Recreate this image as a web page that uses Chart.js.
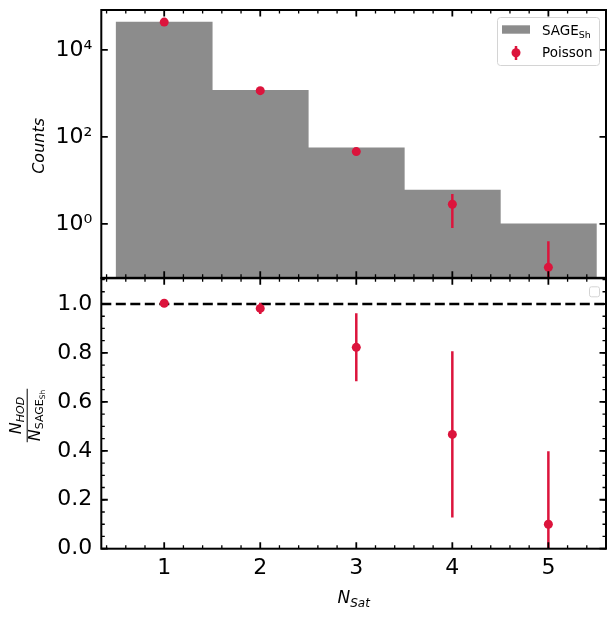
<!DOCTYPE html>
<html>
<head>
<meta charset="utf-8">
<script src="https://cdn.jsdelivr.net/npm/chart.js@4.4.0/dist/chart.umd.min.js"></script>
<style>
  html, body { margin: 0; padding: 0; background: #fff; }
  #wrap { position: relative; width: 615px; height: 617px; overflow: hidden; }
  canvas { position: absolute; left: 0; }
  #countsChart { top: -20px; }
  #ratioChart { top: 250px; }
</style>
</head>
<body>
<div id="wrap">
  <canvas id="countsChart" width="615" height="320"></canvas>
  <canvas id="ratioChart" width="615" height="367"></canvas>
</div>
<script>
// values
const nSat = [1, 2, 3, 4, 5];
const sageCounts = [44000, 1186, 56, 6.0, 1.0];
const poissonCounts = [43800, 1160, 46, 2.83, 0.1];
const poissonErr = [209, 34, 7.8, 2.03, 0.3];
const ratio = [1.003, 0.982, 0.823, 0.467, 0.1];
const ratioErr = [0.006, 0.023, 0.139, 0.34, 0.298];
const countTicks = [1, 100, 10000];
const countTickLabels = ["10\u2070", "10\u00b2", "10\u2074"];
const ratioTicks = [0, 0.2, 0.4, 0.6, 0.8, 1.0];

const RED = "#dc143c";
const GREY = "#8c8c8c";
const FONT = "DejaVu Sans";
const tickFont = { family: FONT, size: 22 };

// inward ticks on all four sides plus the frame
function drawFrame(chart, xMinor, yMinor) {
  const ctx = chart.ctx, a = chart.chartArea;
  const xs = chart.scales.x, ys = chart.scales.y;
  ctx.save();
  ctx.strokeStyle = "#000";
  function xTick(v, len, w) {
    const px = xs.getPixelForValue(v);
    ctx.lineWidth = w;
    ctx.beginPath();
    ctx.moveTo(px, a.bottom); ctx.lineTo(px, a.bottom - len);
    ctx.moveTo(px, a.top); ctx.lineTo(px, a.top + len);
    ctx.stroke();
  }
  function yTick(v, len, w) {
    const py = ys.getPixelForValue(v);
    ctx.lineWidth = w;
    ctx.beginPath();
    ctx.moveTo(a.left, py); ctx.lineTo(a.left + len, py);
    ctx.moveTo(a.right, py); ctx.lineTo(a.right - len, py);
    ctx.stroke();
  }
  for (let k = Math.ceil(xs.min / xMinor); k * xMinor <= xs.max + 1e-9; k++) {
    const v = k * xMinor;
    if (Math.abs(v - Math.round(v)) > 1e-6) xTick(v, 3.5, 1.3);
  }
  xs.ticks.forEach(t => xTick(t.value, 6.5, 1.8));
  if (yMinor) {
    for (let k = Math.ceil(ys.min / yMinor); k * yMinor <= ys.max + 1e-9; k++) {
      yTick(k * yMinor, 3.5, 1.3);
    }
  }
  ys.ticks.forEach(t => yTick(t.value, 6.5, 1.8));
  ctx.lineWidth = 2;
  ctx.strokeRect(a.left, a.top, a.right - a.left, a.bottom - a.top);
  ctx.restore();
}

// vertical error bars under the points
const errorBars = {
  id: "errorBars",
  beforeDatasetDraw(chart, args) {
    const ds = chart.data.datasets[args.index];
    if (!ds.errors) return;
    const ctx = chart.ctx, a = chart.chartArea;
    const xs = chart.scales.x, ys = chart.scales.y;
    ctx.save();
    ctx.beginPath();
    ctx.rect(a.left, a.top, a.right - a.left, a.bottom - a.top);
    ctx.clip();
    ctx.strokeStyle = RED;
    ctx.lineWidth = 2.5;
    ds.data.forEach((p, i) => {
      const px = xs.getPixelForValue(p.x);
      const hi = p.y + ds.errors[i];
      const lo = p.y - ds.errors[i];
      const yHi = ys.getPixelForValue(hi);
      const yLo = lo > 0 || ys.type !== "logarithmic" ? ys.getPixelForValue(lo) : a.bottom + 5;
      ctx.beginPath();
      ctx.moveTo(px, yLo);
      ctx.lineTo(px, yHi);
      ctx.stroke();
    });
    ctx.restore();
  }
};

function drawRich(ctx, parts, x, y) {
  let w = 0;
  parts.forEach(p => { ctx.font = p.font; w += ctx.measureText(p.t).width; });
  let cx = x - w / 2;
  parts.forEach(p => {
    ctx.font = p.font;
    ctx.fillText(p.t, cx, y + (p.dy || 0));
    cx += ctx.measureText(p.t).width;
  });
  return w;
}

const countsDecor = {
  id: "countsDecor",
  afterDraw(chart) {
    const ctx = chart.ctx, a = chart.chartArea;
    drawFrame(chart, 0.2, 0);
    ctx.save();
    // y title
    ctx.fillStyle = "#000";
    ctx.textBaseline = "middle";
    ctx.textAlign = "center";
    ctx.translate(40, (a.top + a.bottom) / 2 + 2);
    ctx.rotate(-Math.PI / 2);
    ctx.font = "italic 16px " + FONT;
    ctx.fillText("Counts", 0, 0);
    ctx.restore();

    // legend
    ctx.save();
    const lx = a.right - 109, ly = a.top + 7;
    ctx.fillStyle = "rgba(255,255,255,0.8)";
    ctx.strokeStyle = "#d4d4d4";
    ctx.lineWidth = 1;
    ctx.beginPath();
    ctx.roundRect(lx + 0.5, ly + 0.5, 102, 48, 3);
    ctx.fill();
    ctx.stroke();
    ctx.fillStyle = GREY;
    ctx.fillRect(lx + 5, ly + 8.3, 28, 8.4);
    ctx.fillStyle = "#000";
    ctx.textAlign = "left";
    ctx.textBaseline = "alphabetic";
    ctx.font = "13.5px " + FONT;
    ctx.fillText("SAGE", lx + 45, ly + 17.5);
    const w = ctx.measureText("SAGE").width;
    ctx.font = "9.5px " + FONT;
    ctx.fillText("Sh", lx + 45 + w, ly + 20.5);
    ctx.font = "13.5px " + FONT;
    ctx.textBaseline = "middle";
    ctx.fillText("Poisson", lx + 45, ly + 36);
    ctx.strokeStyle = RED;
    ctx.lineWidth = 2.5;
    ctx.beginPath();
    ctx.moveTo(lx + 19, ly + 29);
    ctx.lineTo(lx + 19, ly + 43);
    ctx.stroke();
    ctx.fillStyle = RED;
    ctx.beginPath();
    ctx.arc(lx + 19, ly + 35.7, 4.5, 0, Math.PI * 2);
    ctx.fill();
    ctx.restore();
  }
};

const ratioDecor = {
  id: "ratioDecor",
  beforeDatasetsDraw(chart) {
    const ctx = chart.ctx, a = chart.chartArea;
    const py = chart.scales.y.getPixelForValue(1);
    ctx.save();
    ctx.strokeStyle = "#000";
    ctx.lineWidth = 2.5;
    ctx.setLineDash([10, 4.5]);
    ctx.beginPath();
    ctx.moveTo(a.left, py);
    ctx.lineTo(a.right, py);
    ctx.stroke();
    ctx.restore();
  },
  afterDraw(chart) {
    const ctx = chart.ctx, a = chart.chartArea;
    drawFrame(chart, 0.2, 0.05);
    ctx.save();
    ctx.fillStyle = "#000";
    ctx.textBaseline = "alphabetic";
    // x title
    drawRich(ctx, [
      { t: "N", font: "italic 17px " + FONT },
      { t: "Sat", font: "italic 12px " + FONT, dy: 4 }
    ], (a.left + a.right) / 2, a.bottom + 54.6);
    // y title (fraction)
    ctx.translate(26.7, (a.top + a.bottom) / 2 + 2);
    ctx.rotate(-Math.PI / 2);
    const wn = drawRich(ctx, [
      { t: "N", font: "italic 16px " + FONT },
      { t: "HOD", font: "italic 11px " + FONT, dy: 3.5 }
    ], 0, -6);
    const wd = drawRich(ctx, [
      { t: "N", font: "italic 16px " + FONT },
      { t: "SAGE", font: "11px " + FONT, dy: 3.5 },
      { t: "Sh", font: "7.5px " + FONT, dy: 5.5 }
    ], 0, 13);
    const fw = Math.max(wn, wd) + 2;
    ctx.lineWidth = 1;
    ctx.strokeStyle = "#000";
    ctx.beginPath();
    ctx.moveTo(-fw / 2, 0.5);
    ctx.lineTo(fw / 2, 0.5);
    ctx.stroke();
    ctx.restore();
    // empty legend box
    ctx.save();
    ctx.strokeStyle = "#d4d4d4";
    ctx.fillStyle = "rgba(255,255,255,0.8)";
    ctx.lineWidth = 1;
    ctx.beginPath();
    ctx.roundRect(a.right - 16.5, a.top + 8.5, 10, 10, 2);
    ctx.fill();
    ctx.stroke();
    ctx.restore();
  }
};

new Chart(document.getElementById("countsChart"), {
  type: "bar",
  data: {
    datasets: [
      {
        type: "bar",
        data: nSat.map((x, i) => ({ x: x, y: sageCounts[i] })),
        backgroundColor: GREY,
        borderWidth: 0,
        barPercentage: 1,
        categoryPercentage: 1,
        order: 2
      },
      {
        type: "scatter",
        data: nSat.map((x, i) => ({ x: x, y: poissonCounts[i] })),
        errors: poissonErr,
        backgroundColor: RED,
        borderWidth: 0,
        pointRadius: 4.5,
        order: 1
      }
    ]
  },
  options: {
    responsive: false,
    animation: false,
    events: [],
    layout: { padding: { top: 30, right: 9, bottom: 22, left: 0 } },
    plugins: { legend: { display: false }, tooltip: { enabled: false } },
    scales: {
      x: {
        type: "linear",
        min: 0.345,
        max: 5.6,
        offset: false,
        display: false,
        afterBuildTicks: s => { s.ticks = nSat.map(v => ({ value: v })); }
      },
      y: {
        type: "logarithmic",
        min: 0.0574,
        max: 83000,
        grid: { display: false, drawTicks: false },
        border: { display: false },
        afterBuildTicks: s => { s.ticks = countTicks.map(v => ({ value: v })); },
        afterFit: s => { s.width = 101.3; },
        ticks: {
          font: tickFont,
          color: "#000",
          padding: 9,
          callback: v => countTickLabels[countTicks.indexOf(v)]
        }
      }
    }
  },
  plugins: [errorBars, countsDecor]
});

new Chart(document.getElementById("ratioChart"), {
  type: "scatter",
  data: {
    datasets: [
      {
        data: nSat.map((x, i) => ({ x: x, y: ratio[i] })),
        errors: ratioErr,
        backgroundColor: RED,
        borderWidth: 0,
        pointRadius: 4.5
      }
    ]
  },
  options: {
    responsive: false,
    animation: false,
    events: [],
    layout: { padding: { top: 28.3, right: 9, bottom: 0, left: 0 } },
    plugins: { legend: { display: false }, tooltip: { enabled: false } },
    scales: {
      x: {
        type: "linear",
        min: 0.345,
        max: 5.6,
        grid: { display: false, drawTicks: false },
        border: { display: false },
        afterBuildTicks: s => { s.ticks = nSat.map(v => ({ value: v })); },
        afterFit: s => { s.height = 68.3; },
        ticks: { font: tickFont, color: "#000", padding: 6, maxRotation: 0 }
      },
      y: {
        type: "linear",
        min: 0,
        max: 1.105,
        grid: { display: false, drawTicks: false },
        border: { display: false },
        afterBuildTicks: s => { s.ticks = ratioTicks.map(v => ({ value: v })); },
        afterFit: s => { s.width = 101.3; },
        ticks: {
          font: tickFont,
          color: "#000",
          padding: 9,
          callback: v => v.toFixed(1)
        }
      }
    }
  },
  plugins: [errorBars, ratioDecor]
});
</script>
</body>
</html>
